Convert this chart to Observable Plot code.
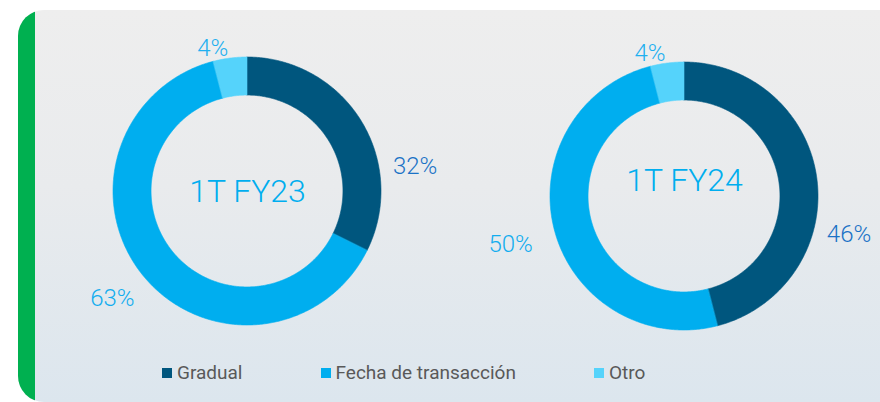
<!DOCTYPE html>
<html>
<head>
<meta charset="utf-8">
<script src="https://cdn.jsdelivr.net/npm/d3@7"></script>
<script src="https://cdn.jsdelivr.net/npm/@observablehq/plot@0.6"></script>
<style>
  html, body { margin: 0; padding: 0; background: #ffffff; }
  body { width: 880px; height: 402px; position: relative; overflow: hidden; font-family: Roboto, "Open Sans", sans-serif; }
  #panel { position: absolute; left: 18px; top: 10px; width: 900px; height: 392px; border-radius: 26px;
           background: linear-gradient(#eeeeee 0%, #e9ebed 45%, #dce6ee 100%); overflow: hidden; }
  #green { position: absolute; left: 0; top: 0; width: 17px; height: 100%; background: #00b050; }
  .donut { position: absolute; width: 430px; height: 360px; }
  .donut svg { max-width: none !important; }
  #legend { position: absolute; left: 162px; top: 361px; display: flex; align-items: center; gap: 78px;
            font-size: 19px; color: #595959; }
  .item { display: flex; align-items: center; gap: 5px; }
  .sw { width: 10px; height: 10px; display: inline-block; }
</style>
</head>
<body>
<div id="panel"><div id="green"></div></div>
<div id="d1" class="donut" style="left:32px; top:11px;"></div>
<div id="d2" class="donut" style="left:469px; top:16px;"></div>
<div id="legend"></div>
<script>
// ---- data ----
const categories = ["Gradual", "Fecha de transacción", "Otro"];
const periods = ["1T FY23", "1T FY24"];
const valuesFY23 = [32, 63, 4];
const valuesFY24 = [46, 50, 4];
const labelsFY23 = ["32%", "63%", "4%"];
const labelsFY24 = ["46%", "50%", "4%"];

// ---- style ----
const colors = ["#00567e", "#00aeef", "#55d3fb"];
const labelColors = ["#1a72c6", "#12adef", "#1fb0f0"];
const labelAngleNudge = [22, -3, -5];  // degrees, per category label placement tweak
const labelExtraPx = [0, 12, 0];       // extra radial distance per category label
const titleDy = [0, -16];              // px, vertical title tweak per donut
const W = 430, H = 360;       // svg size per donut
const R = 134;                // outer radius in px (1 unit)
const inner = 0.716;          // inner radius in units
const gapPx = 4;              // label gap from ring

function donut(el, title, values, labels, tdy) {
  const pie = d3.pie().sort(null).value(d => d)(values);
  const ring = [];
  pie.forEach((p, i) => {
    const n = Math.max(2, Math.ceil((p.endAngle - p.startAngle) / 0.01));
    for (let k = 0; k <= n; k++) {
      const a = p.startAngle + (p.endAngle - p.startAngle) * k / n;
      ring.push({cat: categories[i], x1: Math.sin(a), y1: -Math.cos(a),
                 x2: inner * Math.sin(a), y2: -inner * Math.cos(a)});
    }
  });
  const fs = 24;
  const lab = pie.map((p, i) => {
    const a = (p.startAngle + p.endAngle) / 2 + labelAngleNudge[i] * Math.PI / 180;
    const dx = Math.sin(a), dy = -Math.cos(a);
    const hw = labels[i].length * 0.28 * fs + 12, hh = 0.36 * fs;
    const r = 1 + (gapPx + labelExtraPx[i]) / R;
    return {text: labels[i], color: labelColors[i],
            x: r * dx + (hw / R) * dx, y: r * dy + (hh / R) * dy};
  });
  const chart = Plot.plot({
    width: W, height: H, margin: 0,
    style: {background: "transparent", overflow: "visible"},
    x: {domain: [-W / 2 / R, W / 2 / R], range: [0, W], axis: null},
    y: {domain: [-H / 2 / R, H / 2 / R], range: [0, H], axis: null},
    color: {domain: categories, range: colors},
    marks: [
      Plot.area(ring, {x1: "x1", y1: "y1", x2: "x2", y2: "y2", z: "cat", fill: "cat",
                       stroke: "cat", strokeWidth: 0.6, curve: "linear"}),
      Plot.text(lab, {x: "x", y: "y", text: "text", fill: "color", fontSize: fs,
                      fontFamily: "Roboto", fontWeight: 300}),
      Plot.text([title], {x: () => 0, y: () => 0, dy: tdy, text: d => d, fill: "#00aeef",
                          fontSize: 32, fontFamily: "Roboto", fontWeight: 300})
    ]
  });
  document.getElementById(el).appendChild(chart);
}

donut("d1", periods[0], valuesFY23, labelsFY23, titleDy[0]);
donut("d2", periods[1], valuesFY24, labelsFY24, titleDy[1]);

const leg = document.getElementById("legend");
categories.forEach((c, i) => {
  const it = document.createElement("div");
  it.className = "item";
  const sw = document.createElement("span");
  sw.className = "sw"; sw.style.background = colors[i];
  const t = document.createElement("span");
  t.textContent = c;
  it.appendChild(sw); it.appendChild(t);
  leg.appendChild(it);
});
</script>
</body>
</html>
